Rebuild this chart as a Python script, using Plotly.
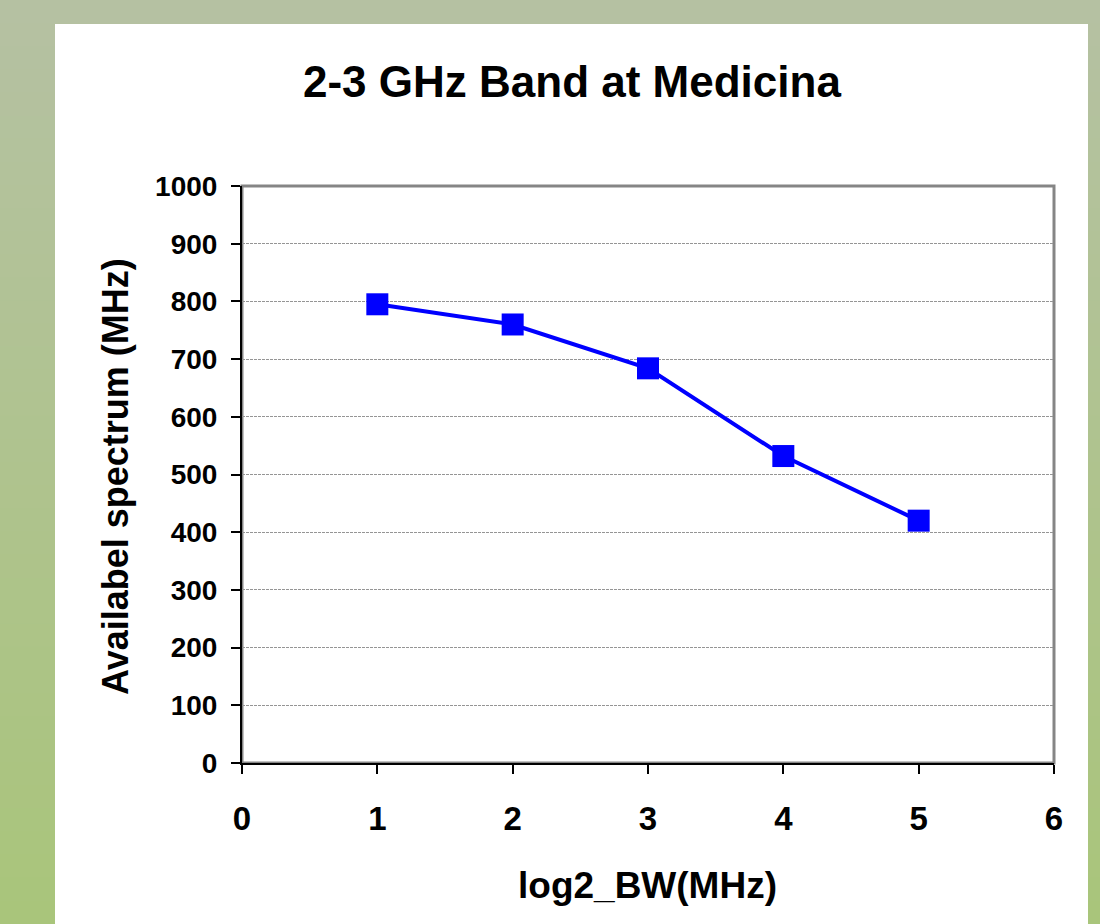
import plotly.graph_objects as go

# ---- data ----
x_vals = [1, 2, 3, 4, 5]
y_vals = [795, 760, 684, 532, 420]
x_ticks = [0, 1, 2, 3, 4, 5, 6]
y_ticks = [0, 100, 200, 300, 400, 500, 600, 700, 800, 900, 1000]
title_text = "2-3 GHz Band at Medicina"
x_title = "log2_BW(MHz)"
y_title = "Availabel spectrum (MHz)"

W, H = 1100, 924
L, R, T, B = 242, 1054, 186, 763


def px_x(p):
    return (p - L) / (R - L)


def px_y(p):
    return (B - p) / (B - T)


FONT = "Liberation Sans, Arial, sans-serif"

fig = go.Figure()
fig.add_trace(go.Scatter(
    x=x_vals, y=y_vals, mode="lines+markers",
    line=dict(color="#0000FF", width=4),
    marker=dict(symbol="square", size=22, color="#0000FF"),
    showlegend=False, cliponaxis=False,
))

shapes = []
# gradient background bands
top_c = (0xB5, 0xC1, 0xA2)
bot_c = (0xA9, 0xC5, 0x7B)
n = 40
for i in range(n):
    t = i / (n - 1)
    c = tuple(round(top_c[k] + (bot_c[k] - top_c[k]) * t) for k in range(3))
    y0 = i * H / n
    y1 = (i + 1) * H / n + 1
    shapes.append(dict(type="rect", xref="paper", yref="paper",
                       x0=px_x(0), x1=px_x(W), y0=px_y(y1), y1=px_y(y0),
                       fillcolor="rgb(%d,%d,%d)" % c, line=dict(width=0), layer="below"))
# white panel
shapes.append(dict(type="rect", xref="paper", yref="paper",
                   x0=px_x(55), x1=px_x(1088), y0=px_y(930), y1=px_y(24),
                   fillcolor="white", line=dict(width=0), layer="below"))
# gray plot frame
shapes.append(dict(type="rect", xref="paper", yref="paper",
                   x0=0, x1=1, y0=0, y1=1,
                   fillcolor="rgba(0,0,0,0)", line=dict(color="#858585", width=3), layer="below"))

annotations = [
    dict(text="<b>%s</b>" % title_text, x=px_x(572), y=px_y(82), xref="paper", yref="paper",
         showarrow=False, xanchor="center", yanchor="middle",
         font=dict(family=FONT, size=44, color="black")),
    dict(text="<b>%s</b>" % x_title, x=px_x(647), y=px_y(885), xref="paper", yref="paper",
         showarrow=False, xanchor="center", yanchor="middle",
         font=dict(family=FONT, size=37, color="black")),
    dict(text="<b>%s</b>" % y_title, x=px_x(115), y=px_y(477), xref="paper", yref="paper",
         showarrow=False, xanchor="center", yanchor="middle", textangle=-90,
         font=dict(family=FONT, size=36, color="black")),
]

fig.update_layout(
    width=W, height=H,
    margin=dict(l=L, r=W - R, t=T, b=H - B, pad=0),
    paper_bgcolor="rgb(181,193,162)",
    plot_bgcolor="rgba(0,0,0,0)",
    shapes=shapes,
    annotations=annotations,
    font=dict(family=FONT, color="black"),
)
fig.update_xaxes(
    range=[0, 6], tickvals=x_ticks, ticktext=["<b>%d</b>" % v for v in x_ticks],
    showgrid=False, zeroline=False,
    showline=True, linecolor="black", linewidth=2,
    ticks="outside", ticklen=9, tickwidth=2, tickcolor="black",
    tickfont=dict(family=FONT, size=33, color="black"),
    ticklabelstandoff=16,
)
fig.update_yaxes(
    range=[0, 1000], tickvals=y_ticks, ticktext=["<b>%d</b>" % v for v in y_ticks],
    showgrid=True, gridcolor="#959595", gridwidth=1, griddash="3px,1px",
    zeroline=False,
    showline=True, linecolor="black", linewidth=2,
    ticks="outside", ticklen=9, tickwidth=2, tickcolor="black",
    tickfont=dict(family=FONT, size=28, color="black"),
    ticklabelstandoff=8,
)

fig.write_html("out.html")
